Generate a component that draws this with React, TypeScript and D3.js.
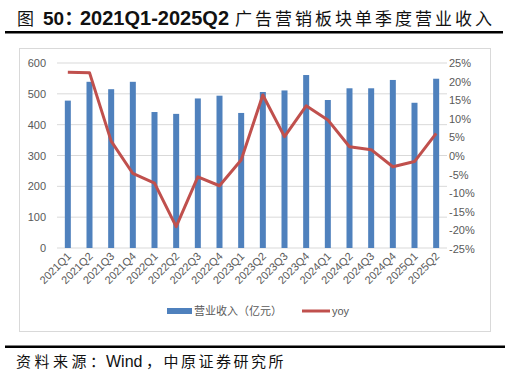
import React from "react";
import * as d3 from "d3";

const categories = ["2021Q1","2021Q2","2021Q3","2021Q4","2022Q1","2022Q2","2022Q3","2022Q4","2023Q1","2023Q2","2023Q3","2023Q4","2024Q1","2024Q2","2024Q3","2024Q4","2025Q1","2025Q2"];
const revenue = [478, 539, 515, 539, 441, 435, 485, 494, 438, 506, 511, 561, 480, 518, 518, 545, 471, 549];
const yoy = [22.5, 22.4, 4.0, -4.7, -7.3, -19.0, -5.6, -8.0, -1.1, 16.4, 5.2, 13.5, 9.7, 2.5, 1.7, -2.9, -1.5, 6.1];
const leftTicks = [0, 100, 200, 300, 400, 500, 600];
const rightTicks = [-25, -20, -15, -10, -5, 0, 5, 10, 15, 20, 25];

const titlePrefix = "图";
const titleNum = "50：";
const titleRange = "2021Q1-2025Q2";
const titleText = "广告营销板块单季度营业收入";
const sourcePre = "资料来源：";
const sourceWind = "Wind";
const sourcePost = "，中原证券研究所";
const legendBar = "营业收入（亿元）";
const legendLine = "yoy";

export default function App() {
  const W = 510, H = 379;
  const plotL = 57, plotR = 447, plotT = 63, plotB = 248;
  const x = d3.scaleBand<string>().domain(categories).range([plotL, plotR]).paddingInner(0).paddingOuter(0);
  const yL = d3.scaleLinear().domain([0, 600]).range([plotB, plotT]);
  const yR = d3.scaleLinear().domain([-25, 25]).range([plotB + 1, plotT]);
  const bw = 6;
  const line = d3.line<number>()
    .x((_, i) => (x(categories[i]) as number) + x.bandwidth() / 2)
    .y((d) => yR(d));
  const font = "'Liberation Sans', Arial, 'Noto Sans CJK SC', sans-serif";
  const cjk = "'Noto Sans CJK SC', sans-serif";
  const gray = "#595959";

  return (
    <svg width={W} height={H} style={{ position: "absolute", left: 0, top: 0, background: "#fff" }} fontFamily={font}>
      <text x={17} y={25} fontSize={17} fill="#111" fontFamily={cjk}>{titlePrefix}</text>
      <text x={43} y={25} fontSize={19} fontWeight="bold" fill="#111" fontFamily={`'Liberation Sans', Arial, ${cjk}`}>{titleNum}</text>
      <text x={80} y={25} fontSize={20} fontWeight="bold" fill="#111" fontFamily="'Liberation Sans', Arial, sans-serif">{titleRange}</text>
      <text x={235} y={25} fontSize={17} letterSpacing={3} fill="#111" fontFamily={cjk}>{titleText}</text>
      <rect x={5} y={31} width={498} height={2.5} fill="#000" />
      <rect x={19.5} y={48.5} width={471} height={283} fill="none" stroke="#d9d9d9" strokeWidth={1} />
      {leftTicks.map((t) => (
        <g key={"g" + t}>
          <line x1={plotL} x2={plotR} y1={yL(t)} y2={yL(t)} stroke="#d9d9d9" strokeWidth={1} />
          <text x={46} y={yL(t) + 4} fontSize={11} textAnchor="end" fill={gray}>{t}</text>
        </g>
      ))}
      {rightTicks.map((t) => (
        <text key={"r" + t} x={449} y={yR(t) + 4} fontSize={11} textAnchor="start" fill={gray}>{t + "%"}</text>
      ))}
      {revenue.map((v, i) => (
        <rect key={"b" + i} x={(x(categories[i]) as number) + x.bandwidth() / 2 - bw / 2} y={yL(v)} width={bw} height={plotB - yL(v)} fill="#4f81bd" />
      ))}
      <path d={line(yoy) || ""} fill="none" stroke="#c0504d" strokeWidth={3} strokeLinejoin="round" />
      {categories.map((c) => {
        const cx = (x(c) as number) + x.bandwidth() / 2 + 4;
        return (
          <text key={"x" + c} transform={`translate(${cx},${plotB + 9}) rotate(-45)`} fontSize={11} textAnchor="end" fill={gray}>{c}</text>
        );
      })}
      <rect x={167} y={308} width={25} height={6} fill="#4f81bd" />
      <text x={194} y={315} fontSize={11} fill={gray} fontFamily={cjk}>{legendBar}</text>
      <line x1={302} x2={330} y1={311} y2={311} stroke="#c0504d" strokeWidth={3} />
      <text x={332} y={315} fontSize={11} fill={gray}>{legendLine}</text>
      <rect x={5} y={345.5} width={500} height={2.5} fill="#000" />
      <text y={367} fontSize={15} fill="#111">
        <tspan x={16} fontFamily={cjk} letterSpacing={3.5}>{sourcePre}</tspan>
        <tspan x={106} fontSize={16} fontFamily="'Liberation Sans', Arial, sans-serif">{sourceWind}</tspan>
        <tspan x={146} fontFamily={cjk} letterSpacing={2.5}>{sourcePost}</tspan>
      </text>
    </svg>
  );
}
